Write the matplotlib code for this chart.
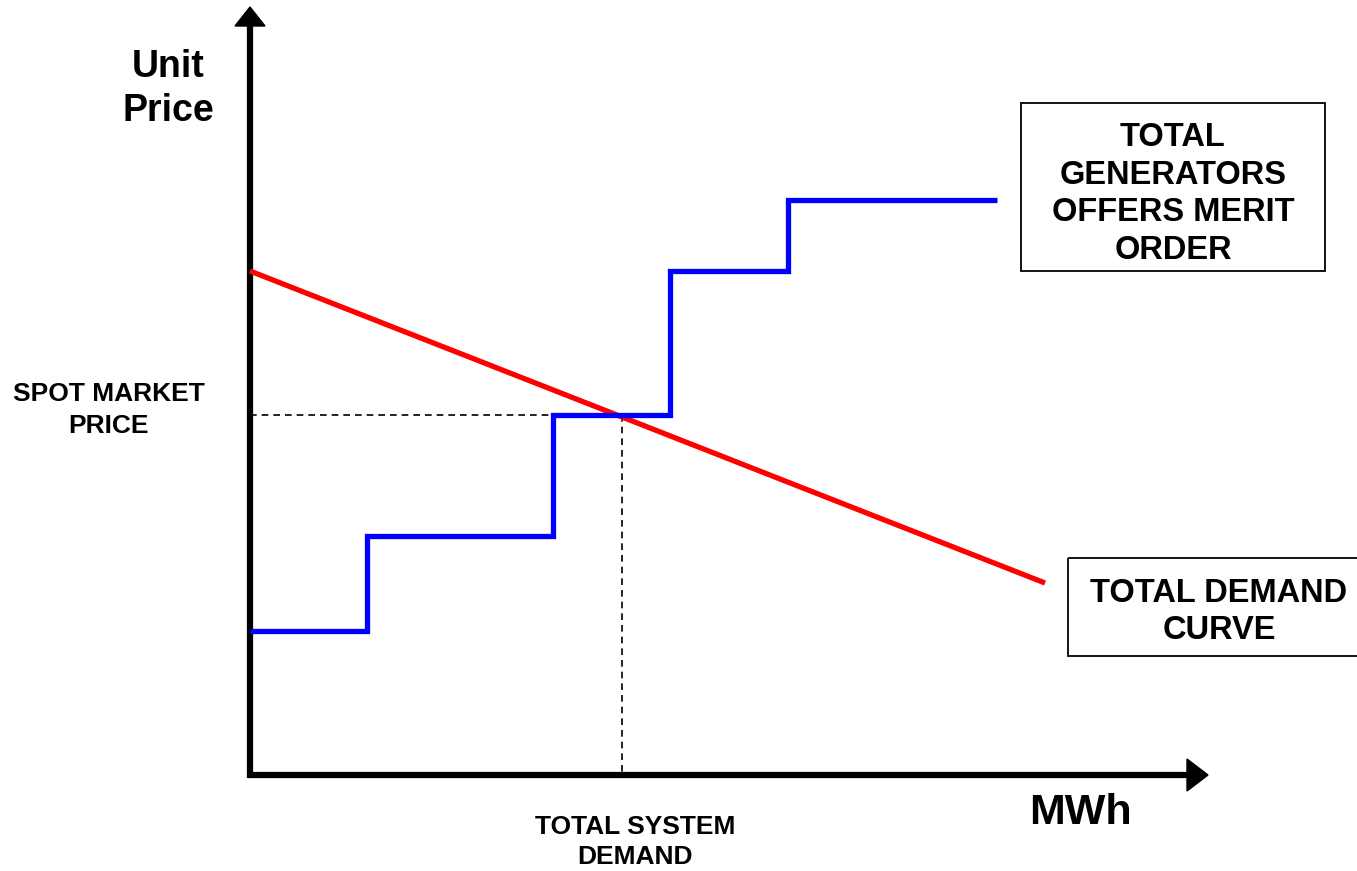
import matplotlib
matplotlib.use("Agg")
import matplotlib.pyplot as plt
from matplotlib.patches import Rectangle

plt.rcParams['font.family'] = ['Liberation Sans', 'DejaVu Sans']

# schematic coordinates (pixel-like units, y grows downward)
offer_x = [250, 367, 367, 553, 553, 670, 670, 788, 788, 997]
offer_y = [631, 631, 536, 536, 415, 415, 271, 271, 200, 200]
demand_x = [250, 1045]
demand_y = [271, 583]
spot_price = 415
system_demand = 622
origin = (250, 775)

fig = plt.figure(figsize=(13.57, 8.71), dpi=100)
ax = fig.add_axes([0, 0, 1, 1])
ax.set_xlim(0, 1357)
ax.set_ylim(871, 0)
ax.axis('off')

# axes with arrow heads
ax.plot([origin[0], origin[0]], [origin[1] + 3, 22], color='black', lw=4.5, solid_capstyle='butt')
ax.plot([origin[0] - 2, 1190], [origin[1], origin[1]], color='black', lw=4.5, solid_capstyle='butt')
ax.fill([origin[0] - 15, origin[0] + 15, origin[0]], [26, 26, 7], color='black')
ax.fill([1187, 1187, 1208], [759, 791, 775], color='black')

# guides
ax.plot([origin[0], 553], [spot_price, spot_price], color='black', lw=1.2, ls=(0, (4, 3)))
ax.plot([system_demand, system_demand], [spot_price, origin[1]], color='black', lw=1.2, ls=(0, (4, 3)))

# curves
ax.plot(demand_x, demand_y, color='#ff0000', lw=3.8, solid_capstyle='butt')
ax.plot(offer_x, offer_y, color='#0000ff', lw=3.8, solid_capstyle='butt', solid_joinstyle='miter')

bold = dict(fontweight='bold', ha='center', va='center', color='black')
ax.text(168, 89, 'Unit\nPrice', fontsize=27, linespacing=1.27, **bold)
ax.text(109, 410, 'SPOT MARKET\nPRICE', fontsize=19, linespacing=1.37, **bold)
ax.text(635, 842, 'TOTAL SYSTEM\nDEMAND', fontsize=19, linespacing=1.29, **bold)
ax.text(1080, 813, 'MWh', fontsize=31, **bold)

ax.add_patch(Rectangle((1021, 103), 304, 168, fill=False, ec='black', lw=1.3))
ax.text(1173, 194, 'TOTAL\nGENERATORS\nOFFERS MERIT\nORDER', fontsize=23.5, linespacing=1.29, **bold)
ax.add_patch(Rectangle((1068, 558), 300, 98, fill=False, ec='black', lw=1.3))
ax.text(1219, 612, 'TOTAL DEMAND\nCURVE', fontsize=23.5, linespacing=1.29, **bold)

fig.savefig('out.png', dpi=100)
